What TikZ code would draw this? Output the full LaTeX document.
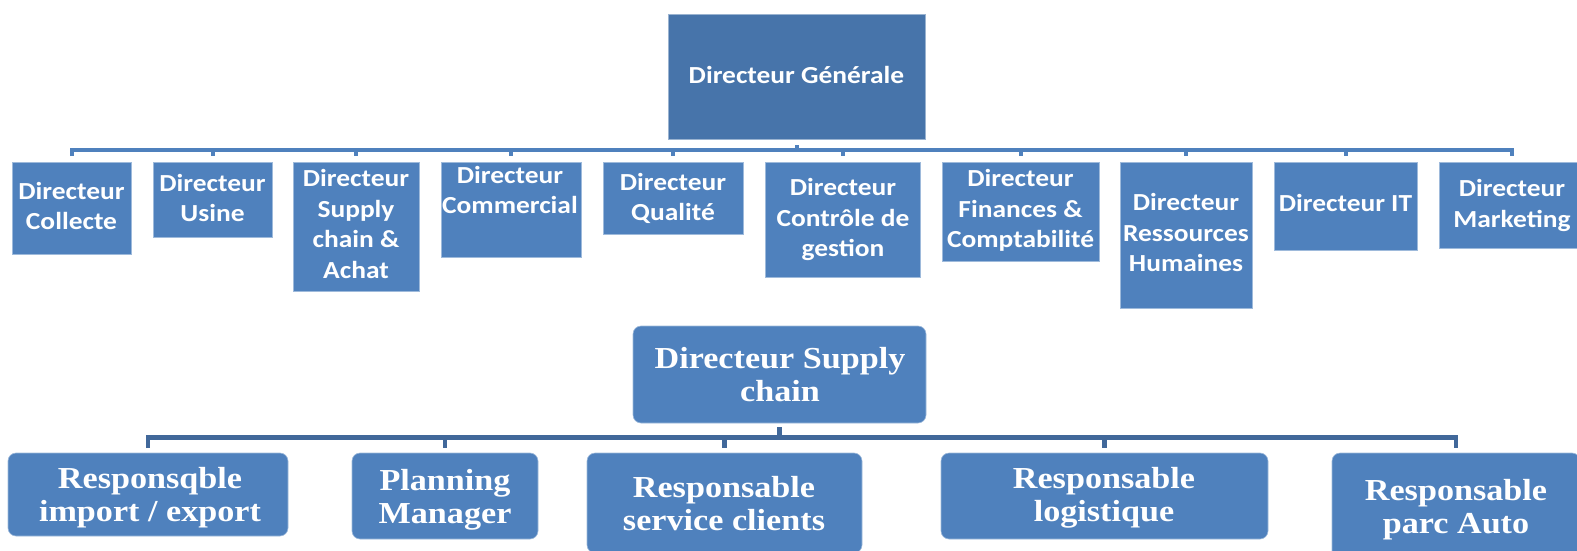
\documentclass[tikz,border=0pt]{standalone}
\usepackage{fontspec}
\newfontfamily\topfont{Carlito}[FakeStretch=1.12]
\newfontfamily\botfont{Liberation Serif}[FakeStretch=1.12]
\definecolor{boxblue}{HTML}{4F81BD}
\definecolor{dgblue}{HTML}{4774AA}
\definecolor{lineblue}{HTML}{4F81BD}
\definecolor{darkline}{HTML}{41689A}
\newcommand{\ml}[1]{\begin{tabular}[t]{@{}c@{}}#1\end{tabular}}
\begin{document}
\begin{tikzpicture}[x=1pt,y=-1pt,
  tbox/.style={rectangle, fill=boxblue, draw=boxblue!55!white, line width=0.6pt, inner sep=0pt, outer sep=0pt},
  dgbox/.style={tbox, fill=dgblue, draw=dgblue!55!white},
  rbox/.style={tbox, rounded corners=8pt},
  ttxt/.style={anchor=base, inner sep=0pt, text=white, font=\topfont\bfseries\fontsize{24.5}{30.5}\selectfont},
  btxt/.style={anchor=base, inner sep=0pt, text=white, font=\botfont\bfseries\fontsize{30.5}{33}\selectfont},
  tline/.style={draw=lineblue, line width=4pt},
  bline/.style={draw=darkline, line width=4.5pt},
]
\useasboundingbox (0,0) rectangle (1577,551);
\clip (0,0) rectangle (1577,551);

% top level
\node[dgbox, minimum width=257pt, minimum height=125pt] (dg) at (796.5,76.5) {};
\node[ttxt] (dgt) at (796.5,83.3) {Directeur Générale};

% directors
\node[tbox, minimum width=119pt, minimum height=92pt]  (c1)  at (71.5,208) {};
\node[tbox, minimum width=119pt, minimum height=75pt]  (c2)  at (212.5,199.5) {};
\node[tbox, minimum width=126pt, minimum height=129pt] (c3)  at (356,226.5) {};
\node[tbox, minimum width=140pt, minimum height=95pt]  (c4)  at (511,209.5) {};
\node[tbox, minimum width=140pt, minimum height=72pt]  (c5)  at (673,198) {};
\node[tbox, minimum width=155pt, minimum height=115pt] (c6)  at (842.5,219.5) {};
\node[tbox, minimum width=157pt, minimum height=99pt]  (c7)  at (1020.5,211.5) {};
\node[tbox, minimum width=132pt, minimum height=146pt] (c8)  at (1186,235) {};
\node[tbox, minimum width=143pt, minimum height=88pt]  (c9)  at (1345.5,206) {};
\node[tbox, minimum width=146pt, minimum height=86pt]  (c10) at (1512,205) {};

\node[ttxt] (c1t)  at (71.5,199.3)  {\ml{Directeur\\Collecte}};
\node[ttxt] (c2t)  at (212.5,191)   {\ml{Directeur\\Usine}};
\node[ttxt] (c3t)  at (356,186.7)   {\ml{Directeur\\Supply\\chain \&\\Achat}};
\node[ttxt] (c4t)  at (510,183)     {\ml{Directeur\\Commercial}};
\node[ttxt] (c5t)  at (673,190)     {\ml{Directeur\\Qualité}};
\node[ttxt] (c6t)  at (843,195.5)   {\ml{Directeur\\Contrôle de\\gestion}};
\node[ttxt] (c7t)  at (1020.5,186.7){\ml{Directeur\\Finances \&\\Comptabilité}};
\node[ttxt] (c8t)  at (1186,210.7)  {\ml{Directeur\\Ressources\\Humaines}};
\node[ttxt] (c9t)  at (1345.5,211.7){Directeur IT};
\node[ttxt] (c10t) at (1512,196.7)  {\ml{Directeur\\Marketing}};

% top connectors
\coordinate (bus) at (796.5,150);
\draw[tline] ([yshift=-6pt]dg.south) -- (dg.south |- bus);
\draw[tline] ([yshift=6pt]c1.north) -- (c1.north |- bus) -- (c10.north |- bus) -- ([yshift=6pt]c10.north);
\foreach \n in {c2,c3,c4,c5,c6,c7,c8,c9}
  \draw[tline] (\n.north |- bus) -- ([yshift=6pt]\n.north);

% supply chain
\node[rbox, minimum width=293pt, minimum height=97pt] (dsc) at (779.5,374.5) {};
\node[btxt] (dsct) at (780,368) {\ml{Directeur Supply\\chain}};

\node[rbox, minimum width=280pt, minimum height=83pt]  (r1) at (148,494.5) {};
\node[rbox, minimum width=186pt, minimum height=86pt]  (r2) at (445,496) {};
\node[rbox, minimum width=275pt, minimum height=100pt] (r3) at (724.5,503) {};
\node[rbox, minimum width=327pt, minimum height=86pt]  (r4) at (1104.5,496) {};
\node[rbox, minimum width=248pt, minimum height=106pt] (r5) at (1456,506) {};

\node[btxt] (r1t) at (150,488)  {\ml{Responsqble\\import / export}};
\node[btxt] (r2t) at (445,490)  {\ml{Planning\\Manager}};
\node[btxt] (r3t) at (724,497)  {\ml{Responsable\\service clients}};
\node[btxt] (r4t) at (1104,488) {\ml{Responsable\\logistique}};
\node[btxt] (r5t) at (1456,500) {\ml{Responsable\\parc Auto}};

% bottom connectors
\coordinate (bbus) at (780,437.5);
\draw[bline] ([yshift=-4pt]dsc.south) -- (dsc.south |- bbus);
\draw[bline] ([yshift=5pt]r1.north) -- (r1.north |- bbus) -- (r5.north |- bbus) -- ([yshift=5pt]r5.north);
\foreach \n in {r2,r3,r4}
  \draw[bline] (\n.north |- bbus) -- ([yshift=5pt]\n.north);
\end{tikzpicture}
\end{document}
